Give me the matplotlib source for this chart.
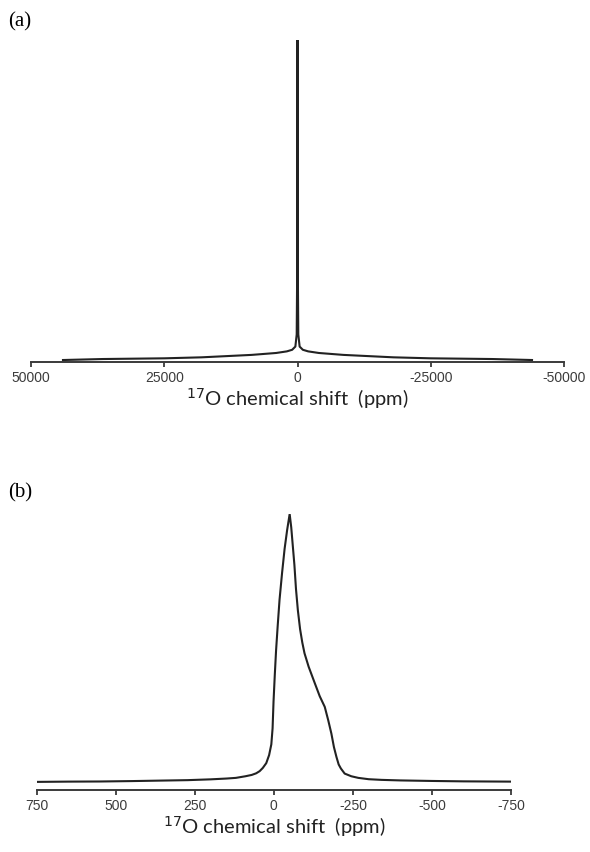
import numpy as np
import matplotlib.pyplot as plt

# (a) full spectrum, intensity in % of the central line
shift_a = [44000, 36500, 25000, 18000, 8600, 4000, 2000, 1000, 400, 150, 50, 0,
           -50, -150, -400, -1000, -2000, -4000, -8600, -18000, -25000, -36500, -44000]
inten_a = [0.0, 0.31, 0.53, 0.84, 1.6, 2.2, 2.7, 3.2, 4.2, 8, 30, 100,
           30, 8, 4.2, 3.2, 2.7, 2.2, 1.6, 0.84, 0.53, 0.31, 0.0]

# (b) central region
shift_b = [750, 650, 550, 450, 350, 273, 200, 150, 120, 90, 70, 56, 45, 35, 24, 15, 8, 4, 1,
           -3, -7, -12, -18, -26, -34, -42, -50, -55, -60, -65, -70, -76, -83, -90, -97,
           -110, -129, -145, -161, -172, -182, -190, -198, -205, -212, -224, -245, -267,
           -300, -341, -400, -500, -600, -750]
inten_b = [0.0, 0.1, 0.15, 0.3, 0.5, 0.65, 0.95, 1.25, 1.5, 2.1, 2.6, 3.2, 4.0, 5.2, 7.0, 10, 14, 20, 30,
           40, 49, 58, 68, 78, 87, 94, 100, 95, 88, 81, 72, 64, 57, 52, 48,
           43, 37, 32, 28, 23, 18, 13, 9.3, 6.5, 5.0, 3.1, 2.1, 1.5,
           1.0, 0.75, 0.55, 0.35, 0.2, 0.1]

ticks_a = [50000, 25000, 0, -25000, -50000]
ticks_b = [750, 500, 250, 0, -250, -500, -750]
xlabel = r'$^{17}$O chemical shift  (ppm)'

fig = plt.figure(figsize=(5.9, 8.52), dpi=100)
ax1 = fig.add_axes([31/590, 1 - 362/852, 533/590, 322/852])
ax2 = fig.add_axes([36.7/590, 1 - 789.5/852, 474.3/590, 275.5/852])

def style(ax, ticks, lim, ylim):
    ax.set_xlim(lim, -lim)
    ax.set_ylim(*ylim)
    for s in ['top', 'left', 'right']:
        ax.spines[s].set_visible(False)
    ax.spines['bottom'].set_color('#3a3a3a')
    ax.spines['bottom'].set_linewidth(1.4)
    ax.set_yticks([])
    ax.set_xticks(ticks)
    ax.set_xticklabels([str(t) for t in ticks], fontfamily='Liberation Sans',
                       fontsize=10, color='#3c3c3c')
    ax.tick_params(axis='x', direction='out', length=3.5, width=1.3,
                   color='#3a3a3a', pad=3)
    ax.set_xlabel(xlabel, fontfamily='Lato', fontsize=14.5, color='#222222', labelpad=1)
    ax.patch.set_alpha(0)

ax1.plot(shift_a, inten_a, color='#222222', lw=1.5)
style(ax1, ticks_a, 50000, (-0.62, 100))

ax2.plot(shift_b, inten_b, color='#222222', lw=1.5)
style(ax2, ticks_b, 750, (-2.84, 100))

fig.text(8/590, 1 - 22/852, '(a)', fontfamily='Liberation Serif', fontsize=15, va='center')
fig.text(8/590, 1 - 493/852, '(b)', fontfamily='Liberation Serif', fontsize=15, va='center')

fig.savefig('out.png', dpi=100)
